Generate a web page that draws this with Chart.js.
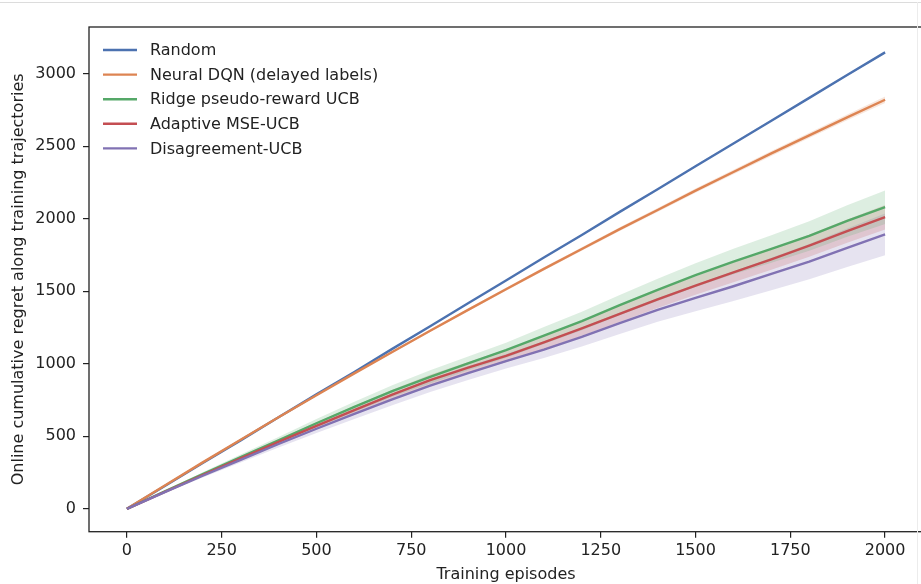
<!DOCTYPE html>
<html>
<head>
<meta charset="utf-8">
<script src="https://cdn.jsdelivr.net/npm/chart.js@4.4.1/dist/chart.umd.min.js"></script>
<style>
    html, body { margin: 0; padding: 0; background: #fff; overflow: hidden; }
    #wrap { position: relative; width: 921px; height: 584px; overflow: hidden; }
    #chart { position: absolute; left: 0; top: 0; }
    .edge-top { position: absolute; left: 0; top: 2px; width: 921px; height: 1px; background: #dcdcdc; }
    .edge-right { position: absolute; left: 917px; top: 2px; width: 1px; height: 582px; background: #ececec; }
</style>
</head>
<body>
<div id="wrap">
    <canvas id="chart" width="924" height="584"></canvas>
    <div class="edge-top"></div>
    <div class="edge-right"></div>
</div>
<script>
// --- DATA ---
const episodes = [0, 100, 200, 300, 400, 500, 600, 700, 800, 900, 1000,
    1100, 1200, 1300, 1400, 1500, 1600, 1700, 1800, 1900, 2000];

const randomRegret = [0, 157, 316, 472, 631, 789, 944, 1103, 1259, 1418, 1574,
    1733, 1889, 2048, 2204, 2363, 2519, 2677, 2834, 2992, 3148];
const dqnRegret = [0, 160, 320, 476, 631, 783, 934, 1081, 1228, 1372, 1514,
    1655, 1792, 1929, 2061, 2194, 2323, 2451, 2575, 2700, 2821];
const ridgeRegret = [0, 121, 240, 356, 472, 590, 703, 812, 910, 1003, 1094,
    1195, 1295, 1405, 1510, 1612, 1705, 1792, 1882, 1985, 2080];
const mseRegret = [0, 117, 233, 348, 462, 572, 680, 788, 888, 973, 1055,
    1148, 1245, 1345, 1445, 1540, 1630, 1720, 1815, 1915, 2011];
const disagreeRegret = [0, 115, 228, 338, 447, 552, 655, 755, 850, 936, 1018,
    1098, 1185, 1280, 1372, 1455, 1535, 1620, 1705, 1800, 1892];

// half-width of the shaded bands
const randomSpread = [0, 1, 1, 2, 2, 2, 3, 3, 3, 4, 4, 4, 5, 5, 5, 6, 6, 6, 7, 7, 8];
const dqnSpread = [0, 1, 2, 3, 4, 5, 6, 7, 8, 9, 10, 11, 12, 13, 14, 15, 16, 17, 18, 20, 22];
const ridgeSpread = [0, 6, 12, 18, 24, 30, 35, 40, 45, 48, 52, 58, 64, 70, 76, 82, 88, 95, 102, 108, 115];
const mseSpread = [0, 5, 10, 15, 20, 25, 29, 33, 37, 40, 44, 48, 52, 56, 60, 64, 68, 72, 76, 80, 85];
const disagreeSpread = [0, 6, 12, 18, 24, 30, 35, 40, 45, 47, 50, 58, 66, 74, 82, 92, 102, 112, 122, 133, 144];

const seriesLabels = ['Random', 'Neural DQN (delayed labels)', 'Ridge pseudo-reward UCB',
    'Adaptive MSE-UCB', 'Disagreement-UCB'];
const seriesValues = [randomRegret, dqnRegret, ridgeRegret, mseRegret, disagreeRegret];
const seriesSpreads = [randomSpread, dqnSpread, ridgeSpread, mseSpread, disagreeSpread];
const seriesColors = ['#4c72b0', '#dd8452', '#55a868', '#c44e52', '#8172b3'];

const xTickValues = [0, 250, 500, 750, 1000, 1250, 1500, 1750, 2000];
const yTickValues = [0, 500, 1000, 1500, 2000, 2500, 3000];

const FONT = '"DejaVu Sans", sans-serif';
const INK = '#222222';

function hexToRgba(hex, a) {
    const n = parseInt(hex.slice(1), 16);
    return `rgba(${(n >> 16) & 255}, ${(n >> 8) & 255}, ${n & 255}, ${a})`;
}

function toPoints(values, shift, sign) {
    return values.map((v, i) => ({ x: episodes[i], y: v + sign * (shift ? shift[i] : 0) }));
}

// --- DATASETS: band (lower + upper filled) then mean line ---
const bandSets = [];
const lineSets = [];
seriesLabels.forEach((label, s) => {
    const color = seriesColors[s];
    bandSets.push({
        data: toPoints(seriesValues[s], seriesSpreads[s], -1),
        borderWidth: 0, pointRadius: 0, fill: false, order: 20
    });
    bandSets.push({
        data: toPoints(seriesValues[s], seriesSpreads[s], 1),
        borderWidth: 0, pointRadius: 0,
        fill: '-1', backgroundColor: hexToRgba(color, 0.2), order: 20
    });
    lineSets.push({
        label: label,
        isLegend: true,
        data: toPoints(seriesValues[s], null, 0),
        borderColor: color,
        borderWidth: 2.4,
        pointRadius: 0,
        fill: false,
        tension: 0,
        order: 10 - s
    });
});

// frame around the plot area (matplotlib style spines)
const framePlugin = {
    id: 'frame',
    afterDatasetsDraw(chart) {
        const { ctx, chartArea: a } = chart;
        ctx.save();
        ctx.strokeStyle = INK;
        ctx.lineWidth = 1.3;
        ctx.strokeRect(a.left, a.top, a.right - a.left, a.bottom - a.top);
        ctx.restore();
    }
};

// legend drawn inside the axes, upper left
const legendPlugin = {
    id: 'innerLegend',
    afterDraw(chart) {
        const { ctx } = chart;
        const items = chart.data.datasets.filter(d => d.isLegend);
        ctx.save();
        ctx.font = `16px ${FONT}`;
        ctx.textBaseline = 'middle';
        ctx.textAlign = 'left';
        items.forEach((d, i) => {
            const y = 50 + i * 24.6;
            ctx.strokeStyle = d.borderColor;
            ctx.lineWidth = 2.4;
            ctx.beginPath();
            ctx.moveTo(103, y);
            ctx.lineTo(137, y);
            ctx.stroke();
            ctx.fillStyle = INK;
            ctx.fillText(d.label, 150, y + 1);
        });
        ctx.restore();
    }
};

new Chart(document.getElementById('chart'), {
    type: 'line',
    data: { datasets: [...bandSets, ...lineSets] },
    options: {
        responsive: false,
        animation: false,
        events: [],
        layout: { padding: { left: 0, top: 27, right: 1, bottom: 0 } },
        plugins: { legend: { display: false }, tooltip: { enabled: false } },
        scales: {
            x: {
                type: 'linear',
                min: -100,
                max: 2100,
                afterBuildTicks: (scale) => { scale.ticks = xTickValues.map(v => ({ value: v })); },
                afterFit: (scale) => {
                    scale.height = 52.3;
                    scale.paddingLeft = 0;
                    scale.paddingRight = 0;
                },
                grid: { drawOnChartArea: false, drawTicks: true, tickLength: 6, color: INK, lineWidth: 1.2 },
                border: { display: false },
                ticks: {
                    color: INK, font: { family: FONT, size: 16 }, padding: 4, maxRotation: 0,
                    callback: (v) => String(v)
                },
                title: {
                    display: true, text: 'Training episodes', color: INK,
                    font: { family: FONT, size: 16 }, padding: { top: 0, bottom: 0 }
                }
            },
            y: {
                type: 'linear',
                min: -158,
                max: 3323,
                afterBuildTicks: (scale) => { scale.ticks = yTickValues.map(v => ({ value: v })); },
                afterFit: (scale) => {
                    scale.width = 89;
                    scale.paddingTop = 0;
                    scale.paddingBottom = 0;
                },
                grid: { drawOnChartArea: false, drawTicks: true, tickLength: 6, color: INK, lineWidth: 1.2 },
                border: { display: false },
                ticks: {
                    color: INK, font: { family: FONT, size: 16 }, padding: 7,
                    callback: (v) => String(v)
                },
                title: {
                    display: true, text: 'Online cumulative regret along training trajectories', color: INK,
                    font: { family: FONT, size: 16 }, padding: { top: 9, bottom: 0 }
                }
            }
        }
    },
    plugins: [framePlugin, legendPlugin]
});
</script>
</body>
</html>
